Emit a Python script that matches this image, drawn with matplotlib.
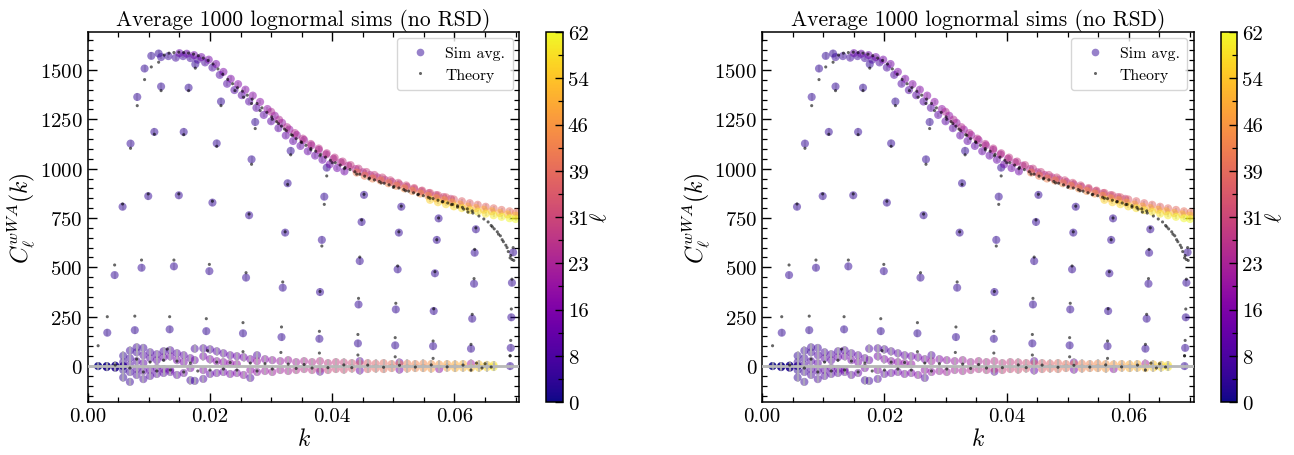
import numpy as np
import matplotlib
matplotlib.use('Agg')
import matplotlib.pyplot as plt
from matplotlib.lines import Line2D
from matplotlib.ticker import MultipleLocator, FixedLocator

# ---- low-ell "ray" points: k, sim average, theory ----
ray_k = [0.0032, 0.0044, 0.0057, 0.0070, 0.0081, 0.0093, 0.0104, 0.0116,
         0.0077, 0.0088, 0.0099, 0.0109, 0.0120,
         0.0134, 0.0141, 0.0149, 0.0157, 0.0165, 0.0176,
         0.0194, 0.0199, 0.0204, 0.0211, 0.0218,
         0.0254, 0.0259, 0.0264, 0.0268, 0.0274,
         0.0317, 0.0319, 0.0323, 0.0327, 0.0332,
         0.0379, 0.0380, 0.0383, 0.0387, 0.0391,
         0.0442, 0.0443, 0.0445, 0.0448, 0.0452,
         0.0503, 0.0504, 0.0507, 0.0509, 0.0513,
         0.0565, 0.0566, 0.0568, 0.0571, 0.0574,
         0.0627, 0.0629, 0.0632, 0.0633, 0.0635,
         0.0691, 0.0692, 0.0693, 0.0694, 0.0696]
ray_sim = [169, 461, 807, 1127, 1363, 1507, 1571, 1583,
           182, 498, 861, 1186, 1416,
           186, 505, 865, 1186, 1410, 1529,
           177, 481, 828, 1128, 1340,
           166, 448, 764, 1047, 1236,
           147, 397, 676, 926, 1090,
           138, 375, 639, 858, 1005,
           115, 312, 532, 730, 867,
           105, 287, 490, 676, 807,
           101, 279, 470, 639, 748,
           88, 240, 417, 574, 693,
           0, 92, 247, 422, 576]
ray_th = [250, 512, 821, 1103, 1319, 1451, 1515, 1539,
          253, 537, 872, 1174, 1395,
          250, 537, 872, 1172, 1395, 1509,
          240, 515, 835, 1113, 1319,
          220, 473, 770, 1022, 1203,
          198, 426, 680, 920, 1070,
          176, 378, 608, 819, 963,
          160, 343, 552, 740, 870,
          144, 318, 507, 680, 810,
          127, 290, 478, 640, 750,
          110, 262, 443, 591, 700,
          52, 130, 289, 440, 600]
ray_ell = 4

# ---- main ridge, several ell groups ----
ga_k = [0.0120, 0.0132, 0.0144, 0.0156, 0.0168, 0.0180, 0.0192, 0.0204, 0.0216, 0.0228,
        0.0240, 0.0252, 0.0264, 0.0276, 0.0288, 0.0300, 0.0312, 0.0324, 0.0336, 0.0348,
        0.0360, 0.0372, 0.0384, 0.0396, 0.0408, 0.0420]
ga_c = [1565, 1570, 1562, 1570, 1560, 1552, 1538, 1512, 1475, 1430,
        1398, 1372, 1340, 1308, 1272, 1240, 1205, 1168, 1140, 1115,
        1088, 1066, 1045, 1022, 1003, 986]
ga_ell = [5, 5, 6, 6, 6, 7, 7, 7, 8, 8, 8, 9, 9, 9, 10, 10, 10, 11, 11, 11,
          12, 12, 12, 13, 13, 13]

gb_k = [0.0150, 0.0162, 0.0174, 0.0186, 0.0198, 0.0210, 0.0222, 0.0234, 0.0246, 0.0258,
        0.0270, 0.0282, 0.0294, 0.0306, 0.0318, 0.0330, 0.0342, 0.0354, 0.0366, 0.0378,
        0.0390, 0.0402, 0.0414, 0.0426, 0.0438, 0.0450, 0.0462, 0.0474, 0.0486, 0.0498,
        0.0510, 0.0522, 0.0534, 0.0546, 0.0558, 0.0570, 0.0582, 0.0594]
gb_c = [1585, 1582, 1575, 1565, 1552, 1530, 1490, 1455, 1428, 1400,
        1370, 1338, 1302, 1268, 1232, 1198, 1170, 1145, 1118, 1095,
        1072, 1050, 1032, 1015, 998, 982, 968, 956, 944, 932,
        920, 908, 897, 886, 876, 866, 856, 847]
gb_ell = [12, 12, 13, 13, 14, 14, 15, 15, 16, 16, 17, 17, 18, 18, 19, 19, 20, 20, 21, 21,
          22, 22, 23, 23, 24, 24, 25, 25, 26, 26, 27, 27, 28, 28, 29, 29, 30, 30]

gc_k = [0.0300, 0.0313, 0.0326, 0.0339, 0.0352, 0.0365, 0.0378, 0.0391, 0.0404, 0.0417,
        0.0430, 0.0443, 0.0456, 0.0469, 0.0482, 0.0495, 0.0508, 0.0521, 0.0534, 0.0547,
        0.0560, 0.0573, 0.0586, 0.0599, 0.0612, 0.0625, 0.0638, 0.0651, 0.0664, 0.0677,
        0.0690, 0.0701]
gc_c = [1288, 1248, 1210, 1180, 1152, 1125, 1102, 1078, 1056, 1036,
        1018, 1000, 983, 968, 955, 941, 928, 915, 902, 889,
        877, 865, 855, 844, 835, 825, 817, 807, 799, 791,
        784, 778]
gc_ell = [24, 24, 25, 25, 26, 26, 27, 27, 28, 28, 29, 29, 30, 30, 31, 31, 32, 32, 33, 33,
          34, 34, 35, 35, 36, 36, 37, 37, 38, 38, 39, 39]

gd_k = [0.0440, 0.0453, 0.0466, 0.0479, 0.0492, 0.0505, 0.0518, 0.0531, 0.0544, 0.0557,
        0.0570, 0.0583, 0.0596, 0.0609, 0.0622, 0.0635, 0.0648, 0.0661, 0.0674, 0.0687,
        0.0700]
gd_c = [980, 964, 950, 940, 926, 913, 900, 887, 874, 862,
        850, 840, 828, 818, 808, 800, 792, 784, 775, 768, 762]
gd_ell = [42, 42, 43, 43, 44, 44, 45, 45, 46, 46, 47, 47, 48, 48, 49, 49, 50, 50, 51, 51, 52]

ge_k = [0.0560, 0.0573, 0.0586, 0.0599, 0.0612, 0.0625, 0.0638, 0.0651, 0.0664, 0.0677,
        0.0690, 0.0700]
ge_c = [842, 830, 820, 809, 800, 790, 782, 772, 764, 756, 749, 745]
ge_ell = [56, 56, 57, 57, 58, 58, 59, 59, 60, 61, 62, 62]

# theory along the ridge
th_k = [0.0125, 0.0133, 0.0141, 0.0149, 0.0157, 0.0165, 0.0173, 0.0181, 0.0189, 0.0197,
        0.0205, 0.0213, 0.0221, 0.0229, 0.0237, 0.0245, 0.0253, 0.0261, 0.0269, 0.0277,
        0.0285, 0.0293, 0.0301, 0.0309, 0.0317, 0.0325, 0.0333, 0.0341, 0.0349, 0.0357,
        0.0365, 0.0373, 0.0381, 0.0389, 0.0397, 0.0405, 0.0413, 0.0421, 0.0429, 0.0437,
        0.0445, 0.0453, 0.0461, 0.0469, 0.0477, 0.0485, 0.0493, 0.0501, 0.0509, 0.0517,
        0.0525, 0.0533, 0.0541, 0.0549, 0.0557, 0.0565, 0.0573, 0.0581, 0.0589, 0.0597,
        0.0605, 0.0613, 0.0621, 0.0629]
th_c = [1575, 1585, 1588, 1590, 1588, 1585, 1580, 1572, 1560, 1548,
        1530, 1505, 1478, 1452, 1430, 1410, 1392, 1372, 1352, 1330,
        1308, 1285, 1262, 1238, 1215, 1192, 1172, 1152, 1136, 1118,
        1102, 1088, 1072, 1058, 1042, 1030, 1018, 1006, 995, 984,
        972, 962, 952, 943, 935, 926, 918, 910, 902, 894,
        886, 878, 870, 863, 855, 848, 840, 833, 826, 819,
        812, 804, 796, 786]
th2_k = [0.0241, 0.0255, 0.0268, 0.0282, 0.0302, 0.0312, 0.0322, 0.0335, 0.0350, 0.0365,
         0.0380, 0.0400, 0.0420, 0.0440, 0.0460, 0.0480, 0.0500, 0.0520, 0.0540, 0.0560,
         0.0580, 0.0595, 0.0605, 0.0615, 0.0622, 0.0630, 0.0640, 0.0648, 0.0655, 0.0660,
         0.0662, 0.0665, 0.0670, 0.0672, 0.0675, 0.0678, 0.0680, 0.0684, 0.0686, 0.0688,
         0.0691, 0.0692, 0.0694, 0.0697]
th2_c = [1395, 1362, 1330, 1294, 1250, 1228, 1200, 1168, 1132, 1095,
         1065, 1030, 1000, 972, 948, 928, 905, 888, 868, 850,
         832, 818, 805, 795, 780, 775, 760, 745, 730, 712,
         705, 695, 680, 668, 660, 640, 630, 612, 600, 580,
         548, 560, 540, 535]

# ---- near-zero cloud ----
nz_k = [0.0017, 0.0031, 0.0031, 0.0045, 0.0045, 0.0058,
        0.0058, 0.0058, 0.0058, 0.0058,
        0.0069, 0.0069, 0.0069, 0.0069, 0.0069,
        0.0080, 0.0080, 0.0080, 0.0080, 0.0080,
        0.0091, 0.0091, 0.0091, 0.0091, 0.0091,
        0.0102, 0.0102, 0.0102, 0.0102,
        0.0113, 0.0113, 0.0113, 0.0113,
        0.0124, 0.0124, 0.0124, 0.0124,
        0.0135, 0.0135, 0.0135, 0.0135,
        0.0146, 0.0146, 0.0146,
        0.0157, 0.0157, 0.0157,
        0.0168, 0.0168, 0.0168,
        0.0175, 0.0175, 0.0175,
        0.0189, 0.0189, 0.0189, 0.0189,
        0.0200, 0.0200, 0.0200,
        0.0211, 0.0211, 0.0211,
        0.0222, 0.0222, 0.0222,
        0.0233, 0.0233, 0.0233,
        0.0244, 0.0244, 0.0244,
        0.0255, 0.0255,
        0.0266, 0.0266, 0.0266,
        0.0277, 0.0277, 0.0277,
        0.0290, 0.0290, 0.0302, 0.0302, 0.0315, 0.0315, 0.0328, 0.0328,
        0.0341, 0.0341, 0.0354, 0.0354, 0.0367, 0.0367,
        0.0380, 0.0380, 0.0380, 0.0393, 0.0393, 0.0406, 0.0406,
        0.0419, 0.0419, 0.0432, 0.0432,
        0.0445, 0.0445, 0.0445, 0.0458, 0.0458, 0.0471, 0.0471,
        0.0484, 0.0484, 0.0497, 0.0497,
        0.0510, 0.0510, 0.0510, 0.0523, 0.0523, 0.0536, 0.0536,
        0.0549, 0.0549, 0.0562, 0.0562, 0.0575, 0.0575,
        0.0588, 0.0588, 0.0601, 0.0601, 0.0614, 0.0614,
        0.0627, 0.0627, 0.0640, 0.0640, 0.0653, 0.0653, 0.0664, 0.0664]
nz_c = [0, 0, -5, 2, -8, 0,
        52, -58, 20, -20,
        78, -80, 40, -30, 5,
        95, 70, -45, 25, -15,
        92, -66, 55, -25, 15,
        70, -50, 40, -20,
        60, -40, 30, -10,
        75, -35, 45, -15,
        80, -30, 50, -20,
        65, -45, 30,
        55, -35, 20,
        -72, 40, -10,
        -75, 88, 30,
        90, -65, 50, -20,
        85, -40, 35,
        75, -35, 25,
        65, -30, 20,
        55, -40, 15,
        50, -35, 10,
        45, -45,
        35, -60, -20,
        55, -30, 25,
        35, -25, 30, -30, 25, -20, 30, -25,
        20, -20, 25, -15, 20, -20,
        25, -28, -15, 15, -20, 20, -15,
        18, -18, 15, -12,
        25, -22, 12, 15, -15, 12, -12,
        15, -15, 10, -10,
        18, -18, 10, 12, -12, 10, -10,
        12, -10, 10, -12, 8, -15,
        10, -8, 8, -10, 10, -8,
        12, -10, 8, -8, 6, -6, 5, -5]
nz_ell = [0, 0, 1, 1, 2, 2,
          4, 4, 5, 3,
          5, 5, 6, 6, 7,
          6, 6, 7, 8, 8,
          6, 7, 8, 9, 10,
          7, 8, 9, 10,
          8, 9, 10, 11,
          7, 9, 11, 12,
          8, 10, 12, 13,
          9, 10, 13,
          10, 12, 14,
          6, 11, 14,
          6, 7, 12,
          8, 8, 13, 15,
          8, 10, 15,
          9, 12, 16,
          10, 13, 17,
          11, 14, 18,
          12, 15, 19,
          13, 16,
          14, 8, 18,
          8, 18, 20,
          16, 20, 18, 21, 20, 22, 21, 23,
          22, 25, 24, 26, 25, 27,
          26, 10, 28, 28, 30, 29, 31,
          30, 32, 32, 34,
          10, 12, 34, 35, 36, 36, 38,
          38, 39, 39, 40,
          12, 14, 41, 42, 43, 43, 44,
          44, 46, 46, 47, 47, 18,
          48, 49, 50, 51, 51, 52,
          22, 53, 54, 55, 56, 57, 58, 60]

nzt_k = [0.0017, 0.0045, 0.0069, 0.0080, 0.0091, 0.0102, 0.0113, 0.0124, 0.0130, 0.0135,
         0.0146, 0.0157, 0.0168, 0.0180, 0.0196, 0.0200, 0.0211, 0.0222, 0.0233, 0.0254,
         0.0244, 0.0266, 0.0277, 0.0290, 0.0316, 0.0302, 0.0328, 0.0341, 0.0354, 0.0379,
         0.0367, 0.0393, 0.0419, 0.0442, 0.0432, 0.0458, 0.0484, 0.0503, 0.0510, 0.0536,
         0.0565, 0.0562, 0.0588, 0.0614, 0.0627, 0.0636, 0.0645, 0.0650, 0.0660, 0.0691]
nzt_c = [103, 5, -10, 35, -30, 20, -25, 30, 86, -20,
         25, -30, 15, -25, 78, -20, 20, -15, 18, 73,
         -20, 15, -25, 12, 69, -15, 10, -12, 8, 66,
         -10, -8, 6, 56, -8, 5, -6, 47, 4, -5,
         39, 6, -4, 5, -20, 15, -10, 12, -5, 52]

ell_ticks = np.linspace(0, 62, 9)


def draw_panel(ax, cax):
    cmap = plt.get_cmap('plasma')
    norm = plt.Normalize(0, 62)
    sim_groups = [
        (nz_k, nz_c, nz_ell, 14),
        (ray_k, ray_sim, [ray_ell] * len(ray_k), 18),
        (ga_k, ga_c, ga_ell, 12),
        (gb_k, gb_c, gb_ell, 12),
        (gc_k, gc_c, gc_ell, 12),
        (gd_k, gd_c, gd_ell, 10),
        (ge_k, ge_c, ge_ell, 10),
    ]
    for k, c, ell, err in sim_groups[1:]:
        ax.errorbar(k, c, yerr=err, fmt='none', ecolor='#c8c8c8', elinewidth=1.2,
                    alpha=0.7, zorder=1)
    for k, c, ell, err in sim_groups:
        rgba = cmap(norm(np.asarray(ell, dtype=float)))
        # the lowest multipoles pile up on top of each other -> nearly opaque
        rgba[:, 3] = np.where(np.asarray(ell) <= 2, 0.9, 0.5)
        ax.scatter(k, c, color=rgba, s=34, edgecolors='none', zorder=2)
    ax.errorbar(nz_k, nz_c, yerr=22, fmt='none', ecolor='#b4b4b4', elinewidth=1.6,
                alpha=0.7, zorder=3)
    ax.axhline(0, color='#b8b8b8', lw=2, zorder=3)

    for k, c in [(ray_k, ray_th), (th_k, th_c), (th2_k, th2_c), (nzt_k, nzt_c)]:
        ax.scatter(k, c, color='black', s=5, alpha=0.6, edgecolors='none', zorder=4)

    ax.set_xlim(0, 0.0706)
    ax.set_ylim(-182, 1692)
    ax.xaxis.set_major_locator(MultipleLocator(0.02))
    ax.xaxis.set_minor_locator(MultipleLocator(0.005))
    ax.yaxis.set_major_locator(MultipleLocator(250))
    ax.yaxis.set_minor_locator(MultipleLocator(50))
    ax.xaxis.set_major_formatter(plt.FuncFormatter(lambda v, p: f'{v:.2f}'))
    ax.tick_params(which='both', direction='in', top=True, right=True, labelsize=15)
    ax.tick_params(which='major', length=6.5, width=1.0)
    ax.tick_params(which='minor', length=3.5, width=0.9)
    for s in ax.spines.values():
        s.set_linewidth(1.1)
    ax.set_xlabel(r'$k$', fontsize=17, labelpad=2)
    ax.set_ylabel(r'$C_\ell^{wWA}(k)$', fontsize=17, labelpad=2)
    ax.set_title('Average 1000 lognormal sims (no RSD)', fontsize=15.5, pad=5)

    handles = [
        Line2D([], [], ls='', marker='o', ms=5.5, color=cmap(4 / 62), alpha=0.5, mec='none'),
        Line2D([], [], ls='', marker='o', ms=2.2, color='black', alpha=0.6, mec='none'),
    ]
    leg = ax.legend(handles, ['Sim avg.', 'Theory'], loc='upper right', fontsize=11.3,
                    frameon=True, fancybox=True, borderpad=0.5, handletextpad=0.6,
                    borderaxespad=0.4)
    leg.get_frame().set_edgecolor('#cccccc')
    leg.get_frame().set_linewidth(1.0)

    sm = plt.cm.ScalarMappable(cmap=cmap, norm=norm)
    cb = plt.colorbar(sm, cax=cax, ticks=ell_ticks, format='%.0f')
    cb.ax.yaxis.set_minor_locator(FixedLocator(np.linspace(0, 62, 17)))
    cb.ax.tick_params(which='both', direction='in', labelsize=15)
    cb.ax.tick_params(which='major', length=6, width=1.0)
    cb.ax.tick_params(which='minor', length=3.5, width=0.9)
    cb.outline.set_linewidth(1.1)
    cb.set_label(r'$\ell$', fontsize=16, labelpad=1)


plt.rcParams.update({
    'font.family': 'serif',
    'font.serif': ['cmr10', 'DejaVu Serif'],
    'mathtext.fontset': 'cm',
    'axes.formatter.use_mathtext': True,
    'axes.unicode_minus': False,
})

fig = plt.figure(figsize=(12.94, 4.56), dpi=100)
ax1 = fig.add_axes([0.0678, 0.1162, 0.3335, 0.8114])
cax1 = fig.add_axes([0.4219, 0.1162, 0.0131, 0.8114])
ax2 = fig.add_axes([0.5890, 0.1162, 0.3335, 0.8114])
cax2 = fig.add_axes([0.9432, 0.1162, 0.0131, 0.8114])
draw_panel(ax1, cax1)
draw_panel(ax2, cax2)
fig.savefig('out.png', dpi=100)
